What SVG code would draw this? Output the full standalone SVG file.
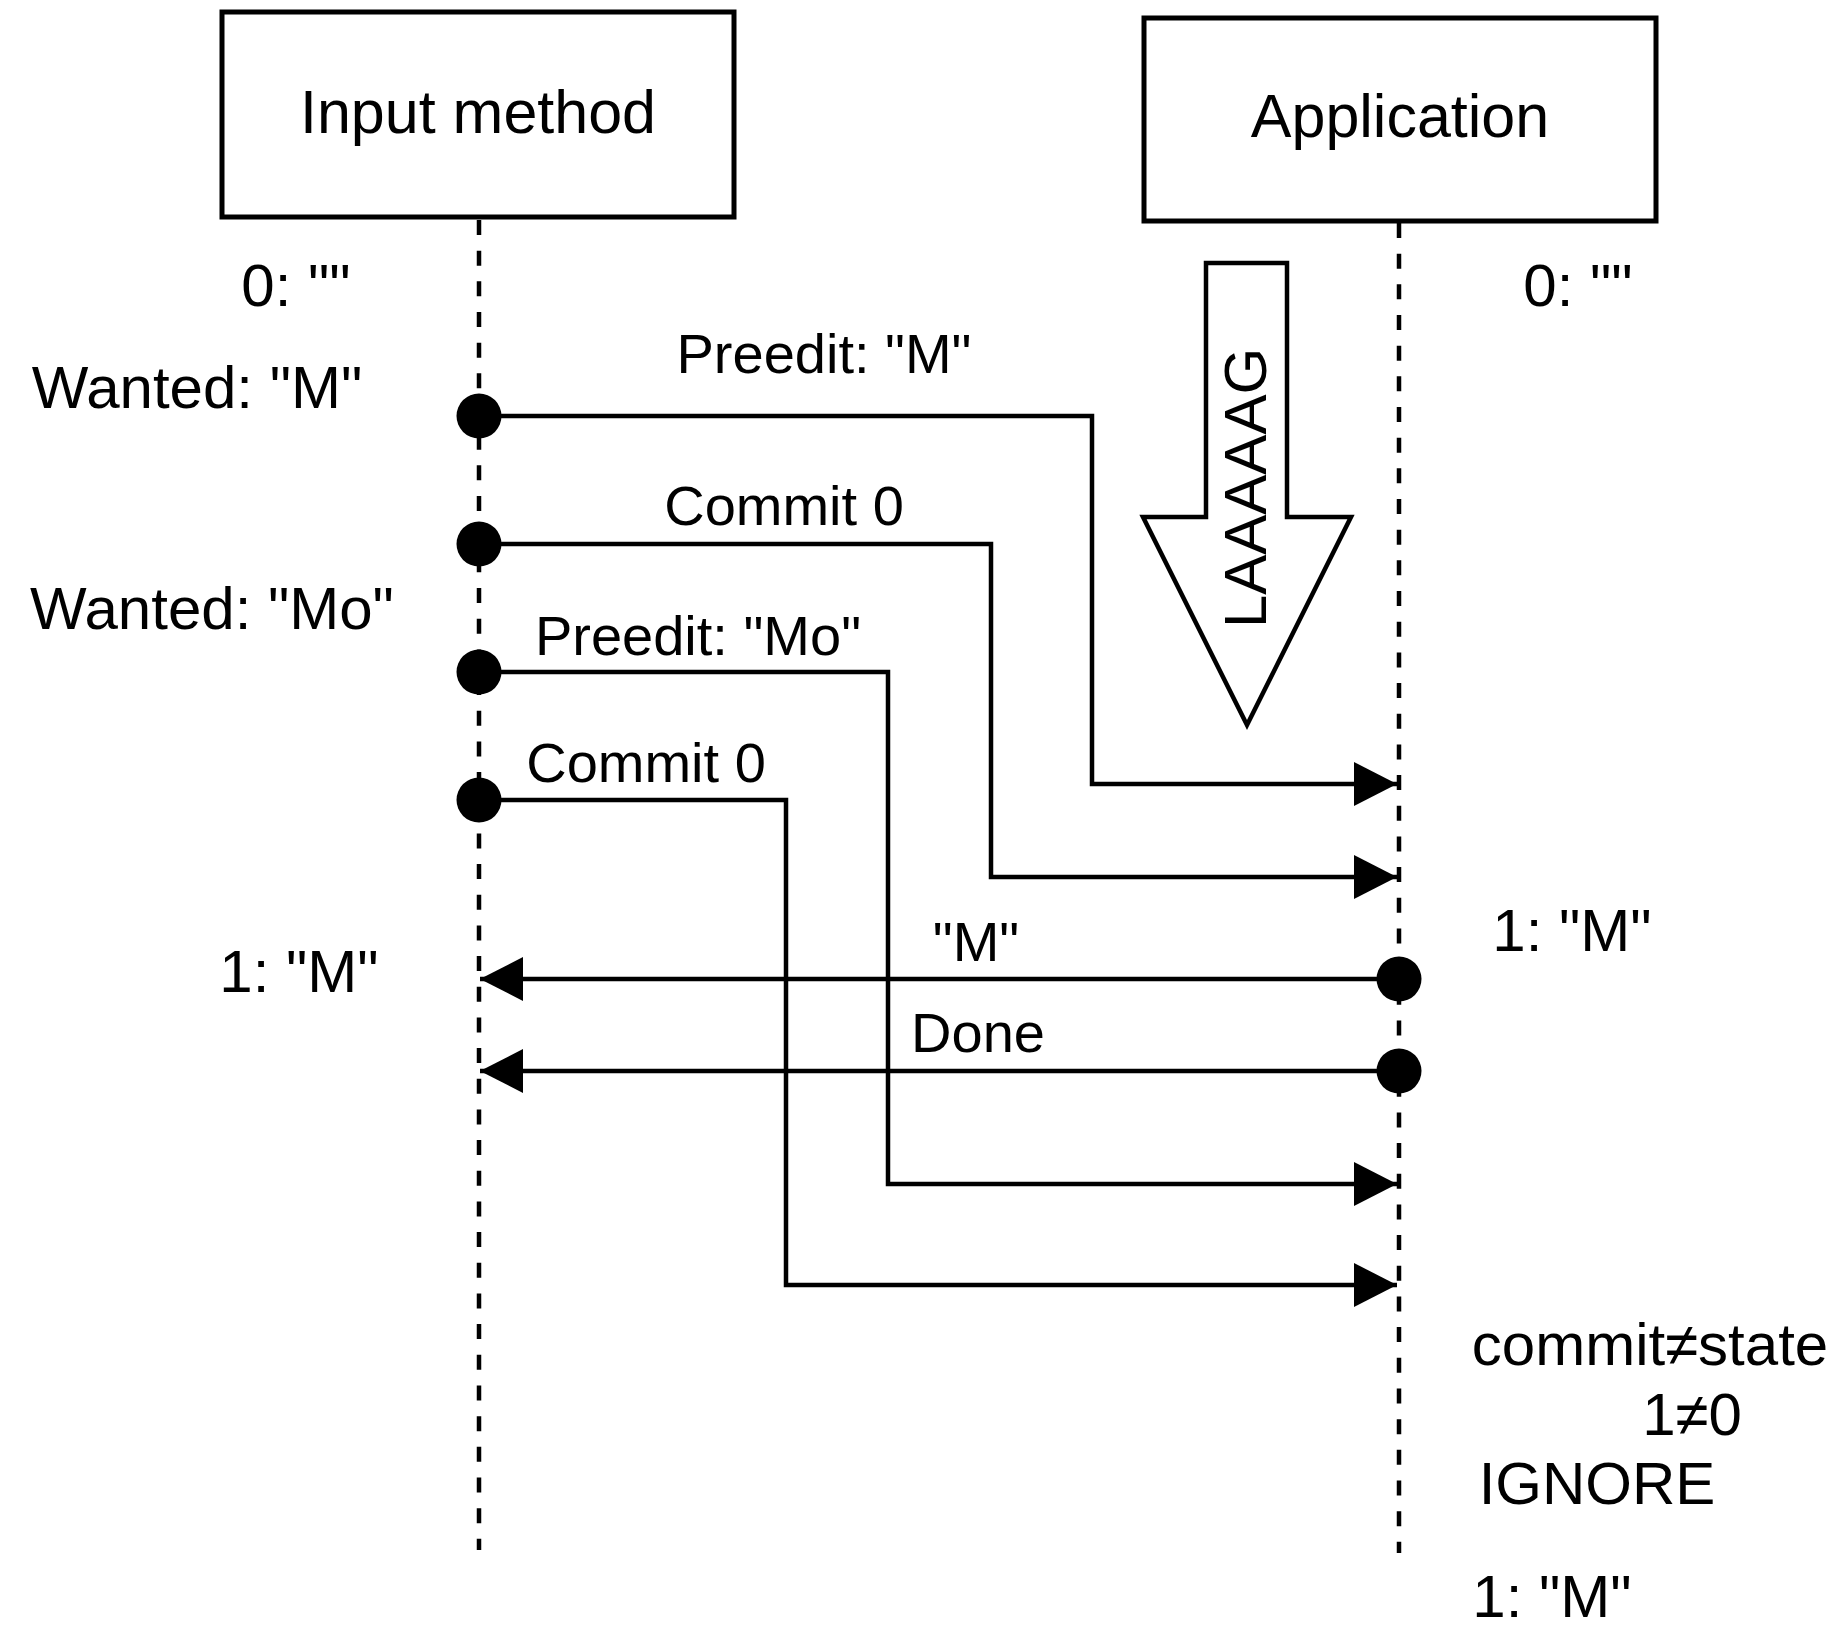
<svg xmlns="http://www.w3.org/2000/svg" width="1845" height="1630" viewBox="0 0 1845 1630">
<style>
text{font-family:"Liberation Sans",Arial,Helvetica,sans-serif;fill:#000;}
.box{fill:#fff;stroke:#000;stroke-width:5;}
.lbl{font-size:61px;text-anchor:middle;}
.side{font-size:60px;text-anchor:middle;}
.msg{font-size:56px;text-anchor:middle;}
.life{stroke:#000;stroke-width:4.5;stroke-dasharray:15 15.67;fill:none;}
.edge{stroke:#000;stroke-width:4.5;fill:none;}
.dot{fill:#000;}
</style>
<defs>
<marker id="arr" markerUnits="userSpaceOnUse" markerWidth="44" markerHeight="46" refX="43" refY="22" orient="auto" viewBox="0 0 44 46">
<path d="M0,0 L43,22 L0,44 Z" fill="#000"/>
</marker>
</defs>
<rect width="1845" height="1630" fill="#fff"/>

<g id="input-method">
<rect class="box" x="222" y="12" width="512" height="205"/>
<text class="lbl" x="478" y="133">Input method</text>
<line class="life" x1="479" y1="220" x2="479" y2="1550"/>
</g>

<g id="application">
<rect class="box" x="1144" y="18" width="512" height="203"/>
<text class="lbl" x="1400" y="137">Application</text>
<line class="life" x1="1399" y1="223" x2="1399" y2="1553"/>
</g>

<g id="lag-arrow">
<polygon points="1206,263 1287,263 1287,517 1351,517 1247,725 1143,517 1206,517" fill="#fff" stroke="#000" stroke-width="4.5"/>
<text class="side" transform="translate(1266,488) rotate(-90)">LAAAAAG</text>
</g>

<g id="state-labels">
<text class="side" x="296" y="306">0: ""</text>
<text class="side" x="1578" y="306">0: ""</text>
<text class="side" x="197" y="408">Wanted: "M"</text>
<text class="side" x="212" y="629">Wanted: "Mo"</text>
<text class="side" x="299" y="992">1: "M"</text>
<text class="side" x="1572" y="951">1: "M"</text>
<text class="side" x="1650" y="1365">commit≠state</text>
<text class="side" x="1692" y="1435">1≠0</text>
<text class="side" x="1597" y="1504">IGNORE</text>
<text class="side" x="1552" y="1617">1: "M"</text>
</g>

<g id="connectors">
<polyline class="edge" points="479,416 1092,416 1092,784 1397,784" marker-end="url(#arr)"/>
<polyline class="edge" points="479,544 991,544 991,877 1397,877" marker-end="url(#arr)"/>
<polyline class="edge" points="479,672 888,672 888,1184 1397,1184" marker-end="url(#arr)"/>
<polyline class="edge" points="479,800 786,800 786,1285 1397,1285" marker-end="url(#arr)"/>
<line class="edge" x1="1399" y1="979" x2="480" y2="979" marker-end="url(#arr)"/>
<line class="edge" x1="1399" y1="1071" x2="480" y2="1071" marker-end="url(#arr)"/>
<circle class="dot" cx="479" cy="416" r="22.5"/>
<circle class="dot" cx="479" cy="544" r="22.5"/>
<circle class="dot" cx="479" cy="672" r="22.5"/>
<circle class="dot" cx="479" cy="800" r="22.5"/>
<circle class="dot" cx="1399" cy="979" r="22.5"/>
<circle class="dot" cx="1399" cy="1071" r="22.5"/>
<text class="msg" x="824" y="373">Preedit: "M"</text>
<text class="msg" x="784" y="525">Commit 0</text>
<text class="msg" x="698" y="655">Preedit: "Mo"</text>
<text class="msg" x="646" y="782">Commit 0</text>
<text class="msg" x="976" y="961">"M"</text>
<text class="msg" x="978" y="1052">Done</text>
</g>
</svg>
